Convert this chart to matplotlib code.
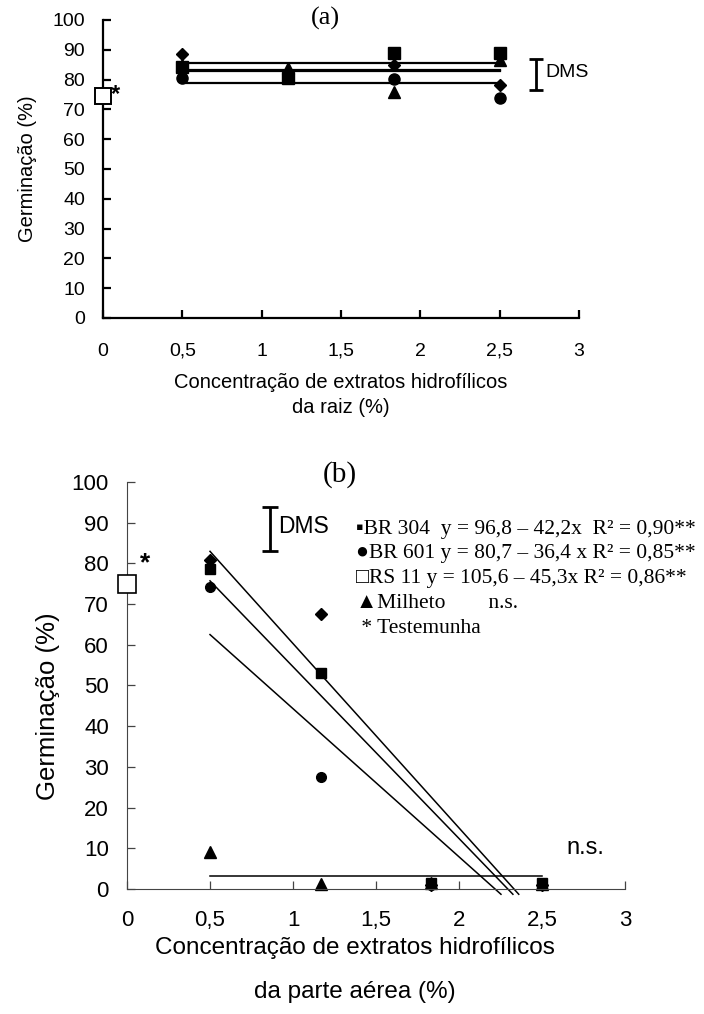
import matplotlib
matplotlib.use("Agg")
import numpy as np
import matplotlib.pyplot as plt

plt.rcParams['font.family'] = ['Liberation Sans', 'DejaVu Sans']

# --------------------------------------------------------------
# data
conc = [0.5, 1.167, 1.833, 2.5]

# (a) root extracts
a_br304 = [84.3, 80.5, 88.8, 88.9]
a_rs11 = [88.5, 81.5, 84.8, 78.3]
a_br601 = [80.6, 80.5, 80.2, 73.8]
a_milheto = [85.0, 84.0, 75.8, 86.5]
a_control = 74.5
a_dms = [76.4, 87.0]

# (b) shoot extracts
b_br304 = [78.6, 53.0, 1.5, 1.5]
b_rs11 = [80.9, 67.5, 1.0, 1.0]
b_br601 = [74.1, 27.5, 1.0, 1.0]
b_milheto = [9.2, 1.3, 1.4, 1.3]
b_control = 75.0
b_dms = [83.0, 93.8]

# regression coefficients (intercept, slope)
fit_br304 = (96.8, -42.2)
fit_br601 = (80.7, -36.4)
fit_rs11 = (105.6, -45.3)

legend_lines = [
    "\u25aaBR 304  y = 96,8 \u2013 42,2x  R\u00b2 = 0,90**",
    "\u25cfBR 601 y = 80,7 \u2013 36,4 x R\u00b2 = 0,85**",
    "\u25a1RS 11 y = 105,6 \u2013 45,3x R\u00b2 = 0,86**",
    "\u25b2Milheto        n.s.",
    " * Testemunha",
]

xticks = [0, 0.5, 1, 1.5, 2, 2.5, 3]
xticklabels = ['0', '0,5', '1', '1,5', '2', '2,5', '3']
yticks = list(range(0, 101, 10))

fig = plt.figure(figsize=(7.04, 10.14), dpi=100)

# --------------------------------------------------------------
# panel (a)
ax = fig.add_axes([0.1463, 0.6864, 0.6761, 0.2939])
for vals in [a_br304, a_rs11, a_br601, a_milheto]:
    ax.plot([conc[0], conc[-1]], [np.mean(vals), np.mean(vals)], color='black', linewidth=1.6)
ax.plot(conc, a_milheto, linestyle='none', marker='^', color='black', markersize=8.5)
ax.plot(conc, a_br601, linestyle='none', marker='o', color='black', markersize=8)
ax.plot(conc, a_rs11, linestyle='none', marker='D', color='black', markersize=6.5)
ax.plot(conc, a_br304, linestyle='none', marker='s', color='black', markersize=8)
ax.plot([0], [a_control], linestyle='none', marker='s', markerfacecolor='white',
        markeredgecolor='black', markeredgewidth=1.4, markersize=11.5, clip_on=False, zorder=5)
ax.text(0.05, a_control + 0.5, '*', fontsize=17, fontweight='bold', va='center', ha='left')
ax.errorbar([2.73], [np.mean(a_dms)], yerr=[[np.mean(a_dms) - a_dms[0]], [a_dms[1] - np.mean(a_dms)]],
            color='black', capsize=5, elinewidth=2, capthick=2, clip_on=False)
ax.text(2.79, 82.5, 'DMS', fontsize=14, va='center', ha='left')
ax.text(1.40, 100.5, '(a)', fontsize=19, family='Liberation Serif', va='center', ha='center')

ax.set_xlim(0, 3)
ax.set_ylim(0, 100)
ax.set_xticks(xticks)
ax.set_xticklabels(xticklabels)
ax.set_yticks(yticks)
ax.spines['top'].set_visible(False)
ax.spines['right'].set_visible(False)
ax.spines['left'].set_linewidth(1.6)
ax.spines['bottom'].set_linewidth(1.6)
ax.tick_params(axis='both', direction='in', length=6, width=1.6, labelsize=14)
ax.tick_params(axis='x', pad=18)
ax.tick_params(axis='y', pad=13)
ax.set_ylabel("Germinação (%)", fontsize=14.5)
ax.yaxis.set_label_coords(-0.139, 0.5)
ax.set_xlabel("Concentração de extratos hidrofílicos\nda raiz (%)", fontsize=14.5, linespacing=1.4)
ax.xaxis.set_label_coords(0.5, -0.185)

# --------------------------------------------------------------
# panel (b)
ax = fig.add_axes([0.1804, 0.1233, 0.7074, 0.4014])
for a0, b1 in [fit_br304, fit_br601, fit_rs11]:
    x_end = (a0 + 1.3) / -b1
    ax.plot([conc[0], x_end], [a0 + b1 * conc[0], a0 + b1 * x_end], color='black', linewidth=1.1, clip_on=False)
ax.plot([conc[0], conc[-1]], [np.mean(b_milheto), np.mean(b_milheto)], color='black', linewidth=1.1)
ax.plot(conc, b_milheto, linestyle='none', marker='^', color='black', markersize=8.5, clip_on=False)
ax.plot(conc, b_br601, linestyle='none', marker='o', color='black', markersize=7, clip_on=False)
ax.plot(conc, b_rs11, linestyle='none', marker='D', color='black', markersize=6, clip_on=False)
ax.plot(conc, b_br304, linestyle='none', marker='s', color='black', markersize=7, clip_on=False)
ax.plot([0], [b_control], linestyle='none', marker='s', markerfacecolor='white',
        markeredgecolor='black', markeredgewidth=1.2, markersize=13, clip_on=False, zorder=5)
ax.text(0.08, 80, '*', fontsize=19, fontweight='bold', va='center', ha='left')
ax.errorbar([0.86], [np.mean(b_dms)], yerr=[[np.mean(b_dms) - b_dms[0]], [b_dms[1] - np.mean(b_dms)]],
            color='black', capsize=5.5, elinewidth=2, capthick=2)
ax.text(0.91, 89.0, 'DMS', fontsize=16.5, va='center', ha='left')
ax.text(1.28, 101.8, '(b)', fontsize=21, family='Liberation Serif', va='center', ha='center')
ax.text(2.65, 10, 'n.s.', fontsize=17, va='center', ha='left')

for i, line in enumerate(legend_lines):
    ax.text(1.38, 88.4 - i * 6.1, line, fontsize=15.5, family=['Liberation Serif', 'DejaVu Sans'],
            va='center', ha='left')

ax.set_xlim(0, 3)
ax.set_ylim(0, 100)
ax.set_xticks(xticks)
ax.set_xticklabels(xticklabels)
ax.set_yticks(yticks)
ax.spines['top'].set_visible(False)
ax.spines['right'].set_visible(False)
ax.spines['left'].set_color('#444444')
ax.spines['bottom'].set_color('#444444')
ax.tick_params(axis='both', direction='in', length=6, width=0.9, color='#444444', labelsize=16)
ax.tick_params(axis='x', pad=15)
ax.tick_params(axis='y', pad=13)
ax.set_ylabel("Germinação (%)", fontsize=18.5)
ax.yaxis.set_label_coords(-0.135, 0.45)
ax.set_xlabel("Concentração de extratos hidrofílicos\nda parte aérea (%)", fontsize=17.5, linespacing=2.3)
ax.xaxis.set_label_coords(0.457, -0.118)

fig.savefig("out.png", dpi=100)
